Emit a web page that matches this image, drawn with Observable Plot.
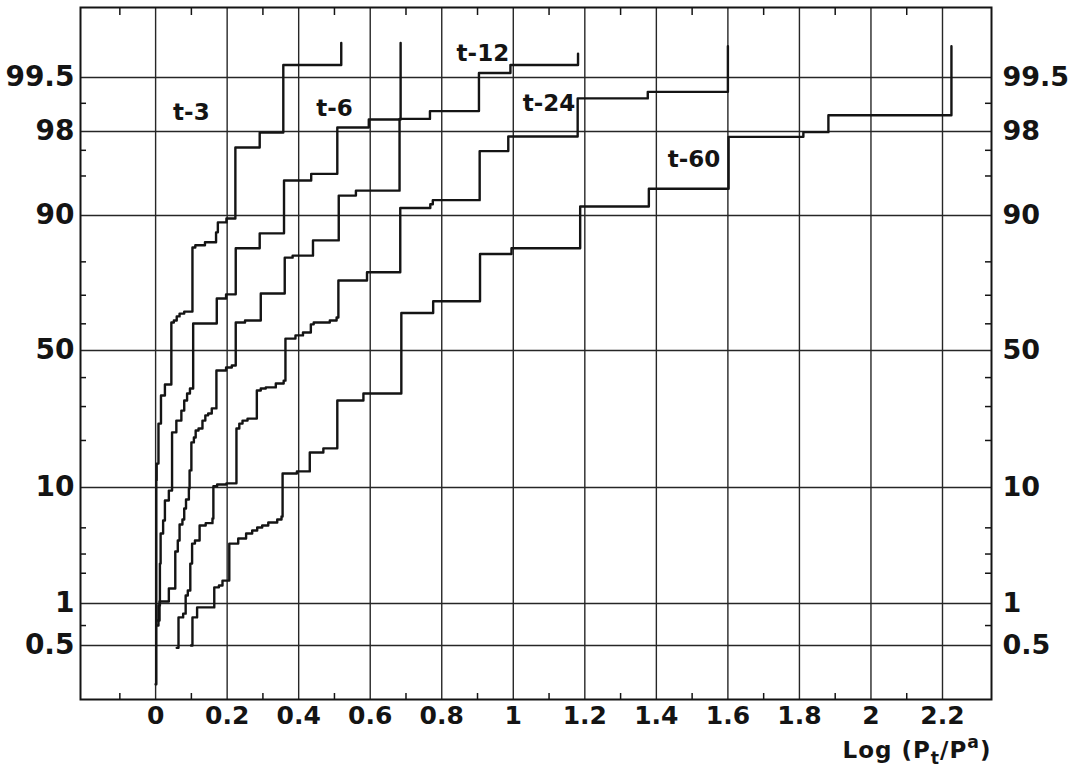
<!DOCTYPE html>
<html>
<head>
<meta charset="utf-8">
<script src="https://cdn.jsdelivr.net/npm/d3@7"></script>
<script src="https://cdn.jsdelivr.net/npm/@observablehq/plot@0.6"></script>
<style>
  html, body { margin: 0; padding: 0; background: #fff; }
  #chart svg { display: block; background: #fff; }
</style>
</head>
<body>
<div id="chart"></div>
<script>
// ---------- data (x = Log(Pt/Pa), p = cumulative percent) ----------
const seriesNames = ["t-3", "t-6", "t-12", "t-24", "t-60"];

const t3X = [0, 0.002, 0.003, 0.008, 0.015, 0.026, 0.044, 0.051, 0.059, 0.067, 0.080, 0.103, 0.111, 0.138, 0.169, 0.174, 0.198, 0.223, 0.291, 0.357, 0.519];
const t3P = [0.25, 11.2, 14.5, 24.7, 33.7, 37.5, 60.5, 61.2, 62.7, 63.7, 64.4, 83.6, 84.1, 84.8, 86.9, 88.8, 89.5, 97.17, 97.95, 99.65, 99.82];

const t6X = [0.003, 0.008, 0.012, 0.014, 0.021, 0.026, 0.037, 0.046, 0.058, 0.072, 0.080, 0.088, 0.096, 0.105, 0.171, 0.197, 0.224, 0.291, 0.359, 0.435, 0.508, 0.596, 0.685];
const t6P = [0.70, 0.97, 2.46, 4.49, 5.72, 8.09, 9.52, 22.2, 25.6, 28.7, 32.0, 34.4, 36.1, 60.1, 68.9, 70.3, 83.4, 86.7, 94.55, 95.2, 98.18, 98.50, 99.82];

const t12X = [0.004, 0.011, 0.037, 0.055, 0.062, 0.067, 0.075, 0.080, 0.085, 0.093, 0.095, 0.100, 0.107, 0.112, 0.120, 0.131, 0.139, 0.147, 0.157, 0.170, 0.197, 0.213, 0.224, 0.250, 0.294, 0.361, 0.383, 0.440, 0.512, 0.560, 0.682, 0.767, 0.904, 0.992, 1.181];
const t12P = [0.76, 1.05, 1.42, 3.16, 3.93, 5.32, 5.82, 7.07, 8.23, 9.83, 13.1, 19.5, 20.8, 22.7, 23.3, 25.6, 27.2, 27.8, 29.4, 42.6, 43.7, 44.4, 60.5, 61.2, 70.6, 81.1, 81.6, 85.2, 92.85, 93.45, 98.52, 98.78, 99.56, 99.65, 99.75];

const t24X = [0.059, 0.064, 0.077, 0.084, 0.090, 0.097, 0.102, 0.110, 0.123, 0.140, 0.159, 0.1615, 0.172, 0.198, 0.226, 0.234, 0.243, 0.257, 0.283, 0.294, 0.308, 0.336, 0.358, 0.363, 0.391, 0.412, 0.434, 0.442, 0.487, 0.506, 0.511, 0.591, 0.684, 0.768, 0.775, 0.906, 0.986, 1.180, 1.376, 1.6];
const t24P = [0.48, 0.80, 0.85, 1.21, 1.36, 2.46, 3.70, 3.93, 5.22, 5.45, 5.93, 10.2, 10.5, 10.7, 23.3, 24.7, 25.6, 26.2, 35.4, 36.1, 36.5, 37.9, 38.9, 54.5, 55.7, 56.8, 59.8, 60.5, 61.2, 62.3, 74.7, 77.1, 91.15, 91.7, 92.26, 96.95, 97.77, 99.12, 99.26, 99.8];

const t60X = [0.099, 0.103, 0.116, 0.164, 0.177, 0.187, 0.206, 0.231, 0.253, 0.270, 0.284, 0.298, 0.315, 0.340, 0.352, 0.355, 0.395, 0.431, 0.469, 0.508, 0.581, 0.687, 0.776, 0.907, 0.995, 1.187, 1.379, 1.602, 1.811, 1.881, 2.225];
const t60P = [0.50, 0.80, 0.94, 1.46, 1.52, 1.70, 3.70, 4.08, 4.49, 4.76, 5.03, 5.22, 5.51, 5.82, 6.14, 12.5, 12.9, 17.0, 18.0, 32.0, 34.4, 63.9, 68.0, 82.0, 83.4, 91.37, 93.67, 97.75, 97.97, 98.65, 99.80];

// curve labels (placed in data coordinates)
const labelText = ["t-3", "t-6", "t-12", "t-24", "t-60"];
const labelX = [0.100, 0.500, 0.915, 1.100, 1.505];
const labelP = [98.74, 98.86, 99.75, 99.0, 96.36];

// axes
const xMajor = [0, 0.2, 0.4, 0.6, 0.8, 1, 1.2, 1.4, 1.6, 1.8, 2, 2.2];
const xTickLabels = ["0", "0.2", "0.4", "0.6", "0.8", "1", "1.2", "1.4", "1.6", "1.8", "2", "2.2"];
const xMinor = [-0.1, 0.1, 0.3, 0.5, 0.7, 0.9, 1.1, 1.3, 1.5, 1.7, 1.9, 2.1];
const yMajor = [0.5, 1, 10, 50, 90, 98, 99.5];
const yTickLabels = ["0.5", "1", "10", "50", "90", "98", "99.5"];
const yMinor = [0.7, 2, 3, 5, 20, 30, 40, 60, 70, 80, 95, 97, 99];
const yFramePct = [0.188, 99.943];
const xDomain = [-0.21, 2.337];
const axisTitle = "Log (Pt/Pa)";

// ---------- probability (normal) transform ----------
function probit(pct) {
  const p = pct / 100;
  const a = [-3.969683028665376e+01, 2.209460984245205e+02, -2.759285104469687e+02, 1.383577518672690e+02, -3.066479806614716e+01, 2.506628277459239e+00];
  const b = [-5.447609879822406e+01, 1.615858368580409e+02, -1.556989798598866e+02, 6.680131188771972e+01, -1.328068155288572e+01];
  const c = [-7.784894002430293e-03, -3.223964580411365e-01, -2.400758277161838e+00, -2.549732539343734e+00, 4.374664141464968e+00, 2.938163982698783e+00];
  const d = [7.784695709041462e-03, 3.224671290700398e-01, 2.445134137142996e+00, 3.754408661907416e+00];
  const plow = 0.02425, phigh = 1 - plow;
  if (p < plow) {
    const q = Math.sqrt(-2 * Math.log(p));
    return (((((c[0]*q+c[1])*q+c[2])*q+c[3])*q+c[4])*q+c[5]) / ((((d[0]*q+d[1])*q+d[2])*q+d[3])*q+1);
  }
  if (p <= phigh) {
    const q = p - 0.5, r = q * q;
    return (((((a[0]*r+a[1])*r+a[2])*r+a[3])*r+a[4])*r+a[5])*q / (((((b[0]*r+b[1])*r+b[2])*r+b[3])*r+b[4])*r+1);
  }
  const q = Math.sqrt(-2 * Math.log(1 - p));
  return -(((((c[0]*q+c[1])*q+c[2])*q+c[3])*q+c[4])*q+c[5]) / ((((d[0]*q+d[1])*q+d[2])*q+d[3])*q+1);
}

// ---------- build rows ----------
const seriesX = [t3X, t6X, t12X, t24X, t60X];
const seriesP = [t3P, t6P, t12P, t24P, t60P];
const rows = [];
seriesNames.forEach((name, i) => {
  seriesX[i].forEach((x, j) => rows.push({series: name, x, p: seriesP[i][j]}));
});
const labels = labelText.map((t, i) => ({t, x: labelX[i], p: labelP[i]}));

const W = 1083, H = 777;
const mL = 80, mR = 92, mT = 7, mB = 78;
const frameW = W - mL - mR, frameH = H - mT - mB;
const font = "DejaVu Sans";
const ink = "#141414";

const yDomain = [probit(yFramePct[0]), ...yMajor.map(probit), probit(yFramePct[1])];
const yRange = [H - mB, 645, 603, 487, 350, 215, 131, 77, mT];

const svg = Plot.plot({
  width: W,
  height: H,
  marginLeft: mL, marginRight: mR, marginTop: mT, marginBottom: mB,
  style: {background: "#fff", fontFamily: font},
  x: {type: "linear", domain: xDomain, axis: null},
  y: {type: "linear", domain: yDomain, range: yRange, axis: null},
  marks: [
    // grid
    Plot.ruleX(xMajor, {x: d => d, stroke: "#262626", strokeWidth: 1.4}),
    Plot.ruleY(yMajor, {y: d => probit(d), stroke: "#262626", strokeWidth: 1.4}),
    // minor ticks (inside the frame)
    Plot.ruleX(xMinor, {x: d => d, insetTop: frameH - 6, stroke: ink, strokeWidth: 1.5}),
    Plot.ruleX(xMinor, {x: d => d, insetBottom: frameH - 8, stroke: ink, strokeWidth: 1.5}),
    Plot.ruleY(yMinor, {y: d => probit(d), insetRight: frameW - 6, stroke: ink, strokeWidth: 1.5}),
    Plot.ruleY(yMinor, {y: d => probit(d), insetLeft: frameW - 6, stroke: ink, strokeWidth: 1.5}),
    Plot.frame({stroke: ink, strokeWidth: 2}),
    // curves
    Plot.line(rows, {x: "x", y: d => probit(d.p), z: "series", curve: "step-after", stroke: ink, strokeWidth: 2.4}),
    // curve labels
    Plot.text(labels, {x: "x", y: d => probit(d.p), text: "t", fontSize: 23, fontWeight: "bold", fontFamily: font, fill: ink}),
    // x tick labels
    Plot.text(xMajor, {x: d => d, frameAnchor: "bottom", dy: 24, text: (d, i) => xTickLabels[i], fontSize: 25, fontWeight: "bold", fontFamily: font, fill: ink}),
    // y tick labels, left and right
    Plot.text(yMajor, {y: d => probit(d), frameAnchor: "left", dx: -6, textAnchor: "end", text: (d, i) => yTickLabels[i], fontSize: 28, fontWeight: "bold", fontFamily: font, fill: ink}),
    Plot.text(yMajor, {y: d => probit(d), frameAnchor: "right", dx: 11, textAnchor: "start", text: (d, i) => yTickLabels[i], fontSize: 27, fontWeight: "bold", fontFamily: font, fill: ink}),
    // axis title
    Plot.text([axisTitle], {frameAnchor: "bottom-right", dy: 58, textAnchor: "end", text: d => d, fontSize: 23, fontWeight: "bold", fontFamily: font, fill: ink})
  ]
});

// sub/superscripts for the axis title
d3.select(svg).selectAll("text").filter(function () { return this.textContent === axisTitle; }).each(function () {
  const t = d3.select(this);
  t.text(null);
  t.style("letter-spacing", "1px");
  t.append("tspan").text("Log (P");
  t.append("tspan").attr("dy", 6).attr("font-size", "0.75em").text("t");
  t.append("tspan").attr("dy", -6).text("/P");
  t.append("tspan").attr("dy", -10).attr("font-size", "0.75em").text("a");
  t.append("tspan").attr("dy", 10).text(")");
});

document.getElementById("chart").appendChild(svg);
</script>
</body>
</html>
